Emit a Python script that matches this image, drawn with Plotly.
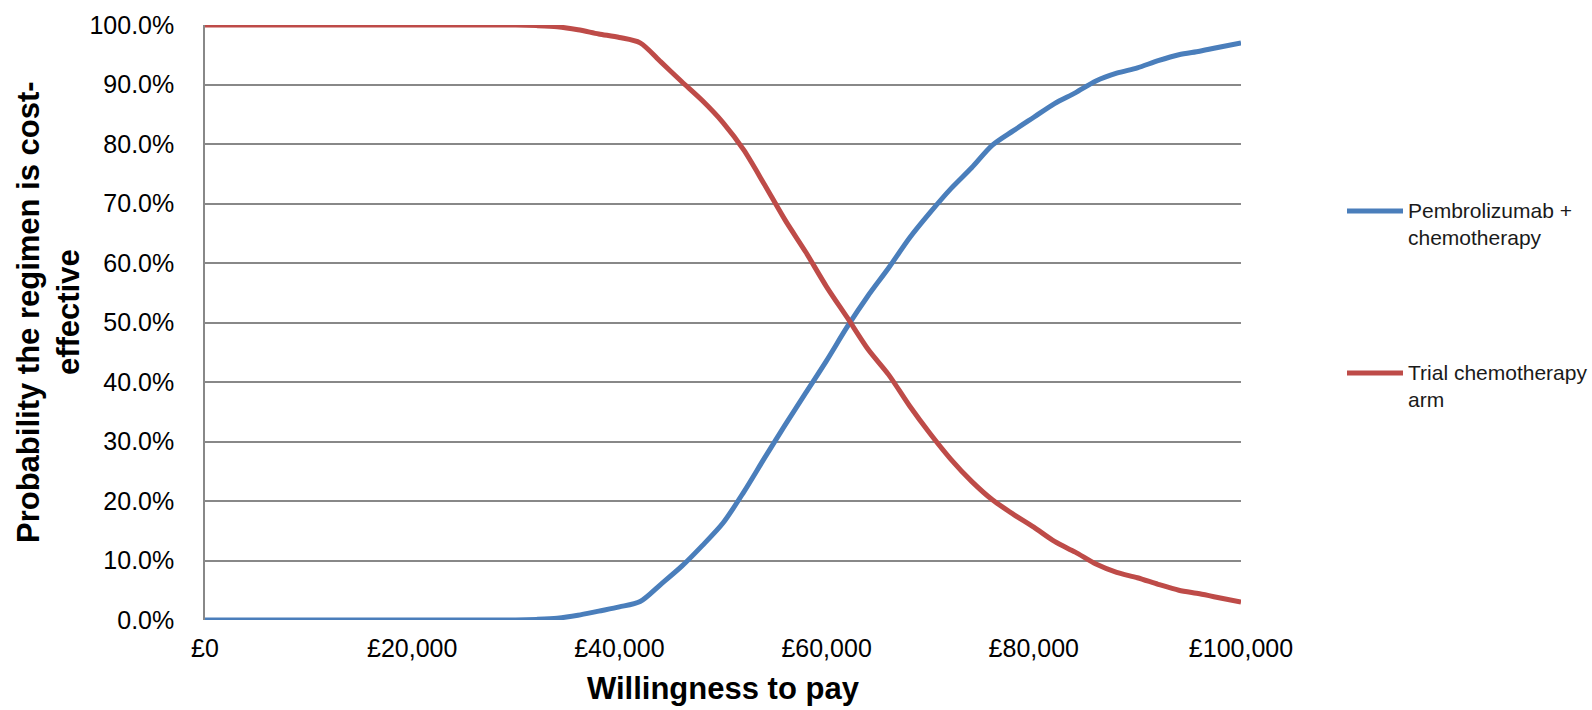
import plotly.graph_objects as go

# Willingness-to-pay thresholds (£)
wtp = [0, 10000, 20000, 30000, 32000, 34000, 36000, 38000, 40000, 42000, 44000,
       46000, 48000, 50000, 52000, 54000, 56000, 58000, 60000, 62000, 64000,
       66000, 68000, 70000, 72000, 74000, 76000, 78000, 80000, 82000, 84000,
       86000, 88000, 90000, 92000, 94000, 96000, 98000, 100000]

# Probability cost-effective (%)
pembro_chemo = [0, 0, 0, 0, 0.1, 0.3, 0.8, 1.5, 2.2, 3.1, 6.0,
                9.0, 12.5, 16.3, 21.5, 27.2, 32.8, 38.2, 43.6, 49.3, 54.5,
                59.2, 64.2, 68.5, 72.5, 76.0, 79.8, 82.2, 84.5, 86.8, 88.6,
                90.6, 91.9, 92.8, 94.0, 95.0, 95.6, 96.3, 97.0]

trial_chemo = [100, 100, 100, 100, 99.9, 99.7, 99.2, 98.5, 97.9, 97.0, 93.8,
               90.5, 87.3, 83.6, 79.0, 73.2, 67.2, 61.8, 56.0, 50.8, 45.5,
               41.2, 36.0, 31.3, 27.0, 23.3, 20.2, 17.8, 15.6, 13.2, 11.4,
               9.4, 8.0, 7.1, 6.0, 5.0, 4.4, 3.7, 3.0]

series_names = ["Pembrolizumab +<br>chemotherapy", "Trial chemotherapy<br>arm"]
series_colors = ["#4A7EBB", "#BE4B48"]

x_tickvals = [0, 20000, 40000, 60000, 80000, 100000]
x_ticktext = ["£0", "£20,000", "£40,000", "£60,000", "£80,000", "£100,000"]
y_tickvals = [0, 10, 20, 30, 40, 50, 60, 70, 80, 90, 100]
y_ticktext = [f"{v:.1f}%" for v in y_tickvals]

FONT = "Arial, Liberation Sans, sans-serif"
W, H = 1592, 710
L, R, T, B = 205, 351, 25, 90
PW, PH = W - L - R, H - T - B


def px_to_paper(px, py):
    return (px - L) / PW, (H - B - py) / PH


fig = go.Figure()
for ys, color in zip([pembro_chemo, trial_chemo], series_colors):
    fig.add_trace(go.Scatter(
        x=wtp, y=ys, mode="lines",
        line=dict(color=color, width=5, shape="spline", smoothing=0.8),
        cliponaxis=False, showlegend=False, hoverinfo="skip",
    ))

grid = "#888888"
fig.update_xaxes(
    range=[0, 100000], tickvals=x_tickvals, ticktext=x_ticktext,
    showgrid=False, zeroline=False, showline=False, ticks="",
    ticklabelstandoff=11,
    tickfont=dict(family=FONT, size=25, color="#000000"),
)
fig.update_yaxes(
    range=[0, 100], tickvals=y_tickvals, ticktext=y_ticktext,
    showgrid=True, gridcolor=grid, gridwidth=1.5,
    zeroline=False, showline=True, linecolor=grid, linewidth=1.5,
    ticks="", ticklabelstandoff=24,
    tickfont=dict(family=FONT, size=25, color="#000000"),
)

annotations = []
# axis titles
ax, ay = px_to_paper(723, 688)
annotations.append(dict(
    x=ax, y=ay, xref="paper", yref="paper", xanchor="center", yanchor="middle",
    text="<b>Willingness to pay</b>", showarrow=False,
    font=dict(family=FONT, size=31, color="#000000"),
))
ax, ay = px_to_paper(49, 312)
annotations.append(dict(
    x=ax, y=ay, xref="paper", yref="paper", xanchor="center", yanchor="middle",
    text="<b>Probability the regimen is cost-<br>effective</b>", showarrow=False,
    textangle=-90, font=dict(family=FONT, size=31, color="#000000"),
))

# legend entries
shapes = []
for name, color, ly in zip(series_names, series_colors, [211, 373]):
    x0, y0 = px_to_paper(1347, ly)
    x1, _ = px_to_paper(1403, ly)
    shapes.append(dict(type="line", xref="paper", yref="paper",
                       x0=x0, x1=x1, y0=y0, y1=y0,
                       line=dict(color=color, width=5)))
    tx, ty = px_to_paper(1406, ly + 13)
    annotations.append(dict(
        x=tx, y=ty, xref="paper", yref="paper", xanchor="left", yanchor="middle",
        text=name, align="left", showarrow=False,
        font=dict(family=FONT, size=21, color="#1a1a1a"),
    ))

fig.update_layout(
    width=W, height=H,
    margin=dict(l=L, r=R, t=T, b=B),
    paper_bgcolor="white", plot_bgcolor="white",
    annotations=annotations, shapes=shapes,
    showlegend=False,
)

fig.write_html("out.html")
